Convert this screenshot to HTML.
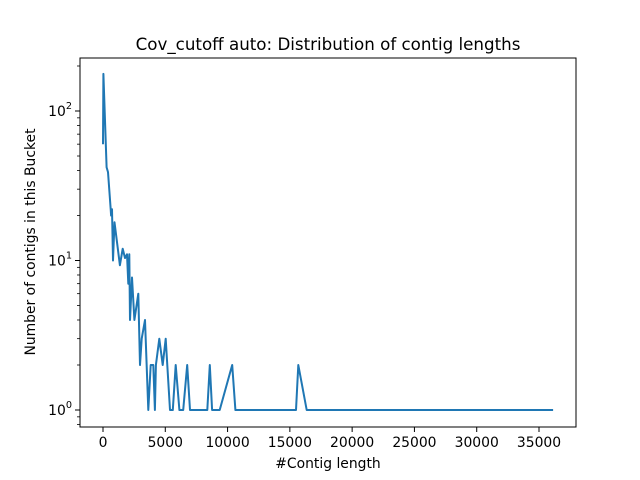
<!DOCTYPE html>
<html><head><meta charset="utf-8"><style>body{margin:0;background:#fff}svg{display:block}text{font-family:"DejaVu Sans","Liberation Sans",sans-serif;fill:#000}</style></head>
<body>
<svg id="c" width="640" height="480" xmlns="http://www.w3.org/2000/svg"></svg>
<script>
const xs = [0,30,290,400,620,650,720,800,920,1360,1580,1770,1930,2030,2110,2170,2330,2520,2830,2970,3110,3370,3640,3830,4040,4170,4250,4520,4790,5030,5380,5600,5840,6130,6440,6760,6980,8370,8570,8760,9370,10370,10630,15490,15680,16350,36130];
const counts = [60,177,42,39,22,20,22,10,18,9.3,12,10.4,11,7,11,4,7.7,4,6,2,3,4,1,2,2,1,2,3,2,3,1,1,2,1,1,2,1,1,2,1,1,2,1,1,2,1,1];
const xTicks = [0,5000,10000,15000,20000,25000,30000,35000];
const yTicks = [0,1,2];
const NS='http://www.w3.org/2000/svg';
const svg=document.getElementById('c');
const L=80,R=576,T=58,B=427;
const X=v=>103+(v)*(436/35000);
const Y=v=>410-149.5*Math.log10(v);
function el(t,a,p){const e=document.createElementNS(NS,t);for(const k in a)e.setAttribute(k,a[k]);(p||svg).appendChild(e);return e;}
const bg=el('rect',{x:L,y:T,width:R-L,height:B-T,fill:'#fff'});


const pts=xs.map((x,i)=>X(x).toFixed(1)+','+Y(counts[i]).toFixed(1)).join(' ');
const line=el('polyline',{points:pts,fill:'none',stroke:'#1f77b4','stroke-width':2,'stroke-linejoin':'round'});


const frame=el('rect',{x:L,y:T,width:R-L,height:B-T,fill:'none',stroke:'#000','stroke-width':1});


xTicks.forEach(t=>{const x=X(t);
el('line',{x1:x,x2:x,y1:B,y2:B+5,stroke:'#000','stroke-width':1});
const tx=el('text',{x:x,y:B+20,'font-size':13.9,'text-anchor':'middle'});tx.textContent=t;

});
yTicks.forEach(p=>{const y=Y(Math.pow(10,p));
el('line',{x1:L-5,x2:L,y1:y,y2:y,stroke:'#000','stroke-width':1});
const tx=el('text',{x:L-8,y:y+5,'font-size':13.9,'text-anchor':'end'});
tx.innerHTML='10<tspan dy="-7" font-size="9.7">'+p+'</tspan>';

});
[0.8,0.9,2,3,4,5,6,7,8,9,20,30,40,50,60,70,80,90,200].forEach(v=>{const y=Y(v);if(y>=T&&y<=B)el('line',{x1:L-3,x2:L,y1:y,y2:y,stroke:'#000','stroke-width':0.8});});
const title=el('text',{x:328,y:50,'font-size':16.7,'text-anchor':'middle'});title.textContent='Cov_cutoff auto: Distribution of contig lengths';


const xl=el('text',{x:328,y:468,'font-size':13.9,'text-anchor':'middle'});xl.textContent='#Contig length';


const yl=el('text',{x:0,y:0,'font-size':13.9,'text-anchor':'middle',transform:'translate(35,242) rotate(-90)'});yl.textContent='Number of contigs in this Bucket';


</script>
</body></html>
